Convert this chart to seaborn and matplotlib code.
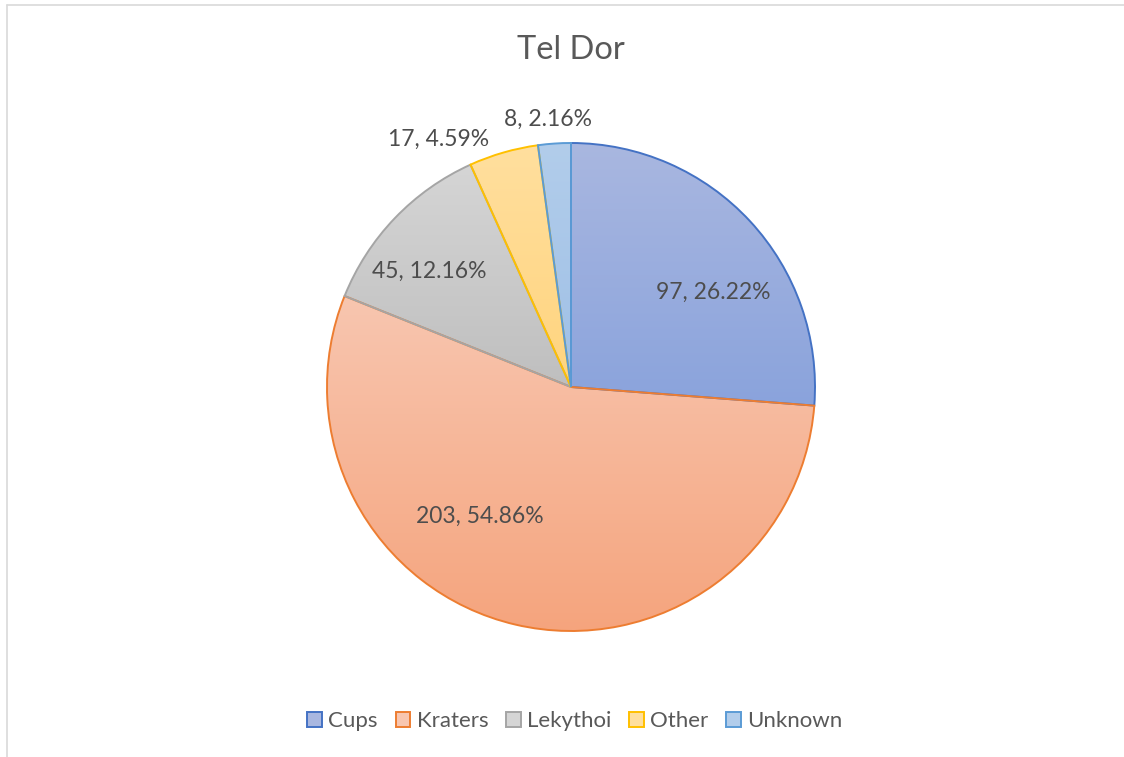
import numpy as np
import matplotlib
matplotlib.use("Agg")
import matplotlib.pyplot as plt
import seaborn as sns
from matplotlib.colors import LinearSegmentedColormap
from matplotlib.patches import Patch
from matplotlib.lines import Line2D

# Daten
categories = ["Cups", "Kraters", "Lekythoi", "Other", "Unknown"]
counts = [97, 203, 45, 17, 8]
percent_labels = ["26.22%", "54.86%", "12.16%", "4.59%", "2.16%"]

# Farben (Rand, hell oben, dunkel unten)
edge_colors = ["#4472C4", "#ED7D31", "#A5A5A5", "#FFC000", "#5B9BD5"]
light_colors = ["#a9b7e0", "#f8c6b0", "#d5d5d5", "#ffdf9e", "#b2cdeb"]
dark_colors = ["#8aa3dc", "#f5a47d", "#bfbfbf", "#ffd47e", "#9fc0e6"]

# Beschriftungsposition: (Radius-Faktor, Winkelverschiebung in Grad)
label_place = [(0.70, -9), (0.65, -22), (0.75, 4.5), (1.15, 12), (1.10, 1)]

sns.set_theme(style="white")
plt.rcParams['font.family'] = ['Lato', 'DejaVu Sans']

fig = plt.figure(figsize=(11.24, 7.57), dpi=100)
W, H = 1124, 757
cx, cy, R, half = 571, 387, 244, 300
ax = fig.add_axes([(cx - half) / W, (H - cy - half) / H, 2 * half / W, 2 * half / H])
lim = half / R

wedges, _ = ax.pie(counts, startangle=90, counterclock=False, radius=1,
                   wedgeprops=dict(linewidth=1.4))
ax.set_aspect('equal')
ax.axis('off')

# Farbverlauf je Segment (oben hell, unten dunkel)
grad = np.linspace(0, 1, 256).reshape(-1, 1)
for w, ec, lc, dc in zip(wedges, edge_colors, light_colors, dark_colors):
    w.set_facecolor('none')
    w.set_edgecolor(ec)
    w.set_zorder(3)
    verts = w.get_path().vertices
    x0, x1 = verts[:, 0].min(), verts[:, 0].max()
    y0, y1 = verts[:, 1].min(), verts[:, 1].max()
    cmap = LinearSegmentedColormap.from_list("g", [dc, lc])
    im = ax.imshow(grad, cmap=cmap, extent=[x0, x1, y0, y1], origin='lower',
                   aspect='auto', zorder=2)
    im.set_clip_path(w)

# Datenbeschriftungen
for w, n, p, (rf, dang) in zip(wedges, counts, percent_labels, label_place):
    mid = np.deg2rad((w.theta1 + w.theta2) / 2 + dang)
    ax.text(rf * np.cos(mid), rf * np.sin(mid), f"{n}, {p}", ha='center', va='center',
            fontsize=16.5, color='#4d4d4d', zorder=5)

ax.set_xlim(-lim, lim)
ax.set_ylim(-lim, lim)

fig.text(cx / W, 1 - 50 / H, "Tel Dor", ha='center', va='center', fontsize=23.5, color='#595959')

handles = [Patch(facecolor=lc, edgecolor=ec, linewidth=1.4) for lc, ec in zip(light_colors, edge_colors)]
fig.legend(handles, categories, loc='center', bbox_to_anchor=(575 / W, 1 - 721 / H), ncol=5,
           frameon=False, fontsize=16, labelcolor='#595959', handlelength=0.65, handleheight=0.65,
           handletextpad=0.3, columnspacing=0.8)

# Rahmen oben und links
fig.add_artist(Line2D([7 / W, 1], [1 - 5 / H, 1 - 5 / H], color='#d9d9d9', lw=1.2))
fig.add_artist(Line2D([7 / W, 7 / W], [0, 1 - 5 / H], color='#d9d9d9', lw=1.2))

fig.savefig("out.png", dpi=100)
